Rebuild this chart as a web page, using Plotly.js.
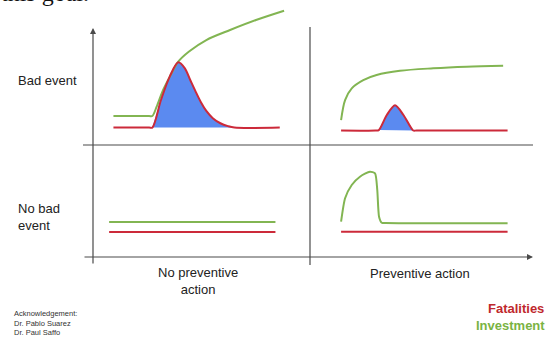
<!DOCTYPE html>
<html><head><meta charset="utf-8">
<script src="https://cdn.plot.ly/plotly-3.0.1.min.js"></script>
<style>html,body{margin:0;padding:0;background:#fff;overflow:hidden}#chart{width:547px;height:337px}</style>
</head><body><div id="chart"></div>
<script>
// ---- Data (each quadrant: time 0..100 across, level 0..100 up) ----
// Bad event, no preventive action
const badNoActRedT   = [9, 25.5, 27, 31, 35, 39, 42, 44.5, 47, 49.5, 52, 55, 58.5, 62, 65, 86];
const badNoActRedV   = [12, 12, 12, 31, 47, 57, 53, 45, 37, 29.5, 23.5, 18.5, 15, 13, 12, 12];
const badNoActGreenT = [9, 25.5, 27, 29, 32, 36, 39, 44, 52, 63, 75, 88];
const badNoActGreenV = [20, 20, 20, 26.4, 38, 49.6, 57.5, 64.5, 72.4, 79.3, 86.2, 92.6];
// Bad event, preventive action
const badActRedT   = [14, 29.5, 31, 34.6, 38.3, 42.1, 46.5, 48, 89];
const badActRedV   = [10, 10, 10.3, 20.7, 27.4, 20.7, 10, 10, 10];
const badActGreenT = [14, 15.8, 18.8, 24, 30, 40.5, 55.5, 70.6, 87];
const badActGreenV = [17.2, 31, 39.1, 44.8, 48.3, 51.2, 52.9, 54, 54.7];
// No bad event, no preventive action
const noBadNoActT      = [7, 84];
const noBadNoActRedV   = [22.3, 22.3];
const noBadNoActGreenV = [31.3, 31.3];
// No bad event, preventive action
const noBadActRedT   = [14, 89];
const noBadActRedV   = [22.6, 22.6];
const noBadActGreenT = [14, 15.8, 18.8, 22.5, 27, 29.3, 30.3, 31.1, 32.3, 34, 89];
const noBadActGreenV = [31.5, 52.4, 64.3, 71.7, 76.2, 74.7, 59.8, 36, 30.6, 30.3, 30.1];

const rowLabels = ['Bad event', 'No bad<br>event'];
const colLabels = ['No preventive<br>action', 'Preventive action'];
const ackLines = ['Acknowledgement:', 'Dr. Pablo Suarez', 'Dr. Paul Saffo'];
const legendLabels = ['Fatalities', 'Investment'];

// ---- Styling ----
const W = 547, H = 337;
const RED = '#cc2a3a', GREEN = '#82b552', BLUE = '#5b8af0', AX = '#4a4a4a';
const px = x => x / W;
const py = y => 1 - y / H;
const FONT = 'Liberation Sans, Arial, sans-serif';

function line(t, v, color, ax, sm) {
  return {x: t, y: v, xaxis: 'x' + ax, yaxis: 'y' + ax, mode: 'lines', type: 'scatter',
    line: {color: color, width: 2, shape: 'spline', smoothing: sm}, hoverinfo: 'skip', showlegend: false};
}
function area(t, v, ax, sm) {
  return {x: t, y: v, xaxis: 'x' + ax, yaxis: 'y' + ax, mode: 'lines', type: 'scatter', fill: 'toself',
    fillcolor: BLUE, line: {width: 0, shape: 'spline', smoothing: sm}, hoverinfo: 'skip', showlegend: false};
}

const n1 = badNoActRedT.length;
const traces = [
  area(badNoActRedT.slice(2, n1 - 1), badNoActRedV.slice(2, n1 - 1), '', 0.9),
  line(badNoActGreenT, badNoActGreenV, GREEN, '', 0.9),
  line(badNoActRedT, badNoActRedV, RED, '', 0.9),
  area(badActRedT.slice(2, 7), badActRedV.slice(2, 7), '2', 0.8),
  line(badActGreenT, badActGreenV, GREEN, '2', 0.9),
  line(badActRedT, badActRedV, RED, '2', 0.8),
  line(noBadNoActT, noBadNoActGreenV, GREEN, '3', 0),
  line(noBadNoActT, noBadNoActRedV, RED, '3', 0),
  line(noBadActGreenT, noBadActGreenV, GREEN, '4', 0.6),
  line(noBadActRedT, noBadActRedV, RED, '4', 0)
];

const ax = (domain, anchor) => ({domain: domain, range: [0, 100], visible: false, fixedrange: true, anchor: anchor});
const xL = [px(94), px(310)], xR = [px(310), px(532)];
const yT = [py(145), py(0)], yB = [py(257), py(145)];

const annotations = [];
// axes with arrows
annotations.push({xref: 'paper', yref: 'paper', x: px(93), y: py(28), ax: 0, ay: 237, text: '',
  showarrow: true, arrowhead: 2, arrowsize: 1, arrowwidth: 1.2, arrowcolor: AX, standoff: 0});
annotations.push({xref: 'paper', yref: 'paper', x: px(533), y: py(257), ax: -450, ay: 0, text: '',
  showarrow: true, arrowhead: 2, arrowsize: 1, arrowwidth: 1.2, arrowcolor: AX, standoff: 0});
// row / column labels
annotations.push({xref: 'paper', yref: 'paper', x: px(16), y: py(80), xanchor: 'left', yanchor: 'middle',
  text: rowLabels[0], showarrow: false, align: 'left', font: {family: FONT, size: 13, color: '#222'}});
annotations.push({xref: 'paper', yref: 'paper', x: px(16), y: py(217), xanchor: 'left', yanchor: 'middle',
  text: rowLabels[1], showarrow: false, align: 'left', font: {family: FONT, size: 13, color: '#222'}});
annotations.push({xref: 'paper', yref: 'paper', x: px(198), y: py(281), xanchor: 'center', yanchor: 'middle',
  text: colLabels[0], showarrow: false, align: 'center', font: {family: FONT, size: 13, color: '#222'}});
annotations.push({xref: 'paper', yref: 'paper', x: px(420), y: py(273), xanchor: 'center', yanchor: 'middle',
  text: colLabels[1], showarrow: false, align: 'center', font: {family: FONT, size: 13, color: '#222'}});
// acknowledgement
const ackY = [313, 323, 332];
ackLines.forEach((s, i) => annotations.push({xref: 'paper', yref: 'paper', x: px(12), y: py(ackY[i]),
  xanchor: 'left', yanchor: 'middle', text: s, showarrow: false, font: {family: FONT, size: 7.5, color: '#333'}}));
// legend-like labels
annotations.push({xref: 'paper', yref: 'paper', x: px(546), y: py(308), xanchor: 'right', yanchor: 'middle',
  text: '<b>' + legendLabels[0] + '</b>', showarrow: false, font: {family: FONT, size: 13, color: '#c0282d'}});
annotations.push({xref: 'paper', yref: 'paper', x: px(547), y: py(325), xanchor: 'right', yanchor: 'middle',
  text: '<b>' + legendLabels[1] + '</b>', showarrow: false, font: {family: FONT, size: 13, color: '#7ab343'}});
// text from the page above (cut off at the top in the reference)
annotations.push({xref: 'paper', yref: 'paper', x: px(-1), y: py(-7), xanchor: 'left', yanchor: 'middle',
  text: 'this goal.', showarrow: false, font: {family: 'Liberation Serif, Times New Roman, serif', size: 24, color: '#111'}});

const shapes = [
  {type: 'line', xref: 'paper', yref: 'paper', x0: px(310), x1: px(310), y0: py(27), y1: py(265), line: {color: AX, width: 1.2}},
  {type: 'line', xref: 'paper', yref: 'paper', x0: px(83), x1: px(533), y0: py(145), y1: py(145), line: {color: AX, width: 1.2}}
];

const layout = {
  width: W, height: H, margin: {l: 0, r: 0, t: 0, b: 0, pad: 0},
  paper_bgcolor: '#fff', plot_bgcolor: 'rgba(0,0,0,0)', showlegend: false,
  xaxis: ax(xL, 'y'), yaxis: ax(yT, 'x'),
  xaxis2: ax(xR, 'y2'), yaxis2: ax(yT, 'x2'),
  xaxis3: ax(xL, 'y3'), yaxis3: ax(yB, 'x3'),
  xaxis4: ax(xR, 'y4'), yaxis4: ax(yB, 'x4'),
  annotations: annotations, shapes: shapes
};

Plotly.newPlot('chart', traces, layout, {displayModeBar: false, staticPlot: true});
</script></body></html>
